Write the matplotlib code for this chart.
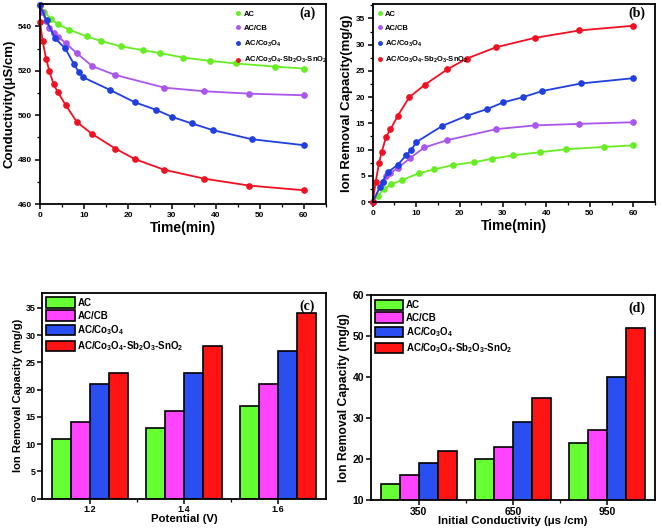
import matplotlib
matplotlib.use("Agg")
import matplotlib.pyplot as plt
import numpy as np
from matplotlib.lines import Line2D
from matplotlib.ticker import MultipleLocator

plt.rcParams["font.family"] = ["Liberation Sans", "DejaVu Sans"]
plt.rcParams["font.weight"] = "bold"
plt.rcParams["mathtext.fontset"] = "custom"
plt.rcParams["mathtext.rm"] = "Liberation Sans:bold"
plt.rcParams["mathtext.it"] = "Liberation Sans:bold"
plt.rcParams["mathtext.bf"] = "Liberation Sans:bold"
plt.rcParams["mathtext.default"] = "rm"

labels = ["AC", "AC/CB", r"AC/Co$_3$O$_4$", r"AC/Co$_3$O$_4$-Sb$_2$O$_3$-SnO$_2$"]
line_colors = ["#66ee22", "#aa55ee", "#1f3fe0", "#f01020"]
bar_colors = ["#66ff33", "#ff44ff", "#2a4ff0", "#ff1414"]

# (a) conductivity vs time
a_ac_t = [0, 1.0, 2.5, 4.2, 6.7, 10.6, 13.9, 18.4, 23.4, 27.3, 32.5, 38.6, 44.6, 53.4, 60]
a_ac = [549.5, 546.6, 543.3, 540.9, 538.5, 535.5, 533.4, 531.0, 529.3, 528.0, 526.0, 524.5, 523.3, 521.9, 521.0]
a_cb_t = [0, 0.5, 1.4, 2.1, 3.1, 4.2, 5.8, 8.4, 11.9, 17.0, 28.3, 37.4, 47.6, 60]
a_cb = [549.5, 546.5, 542.3, 539.5, 537.1, 535.3, 532.5, 527.9, 522.1, 518.2, 512.4, 510.8, 509.7, 509.0]
a_co_t = [0, 1.5, 3.4, 5.7, 7.7, 8.8, 9.8, 15.9, 21.6, 26.3, 30.1, 34.5, 39.3, 48.1, 60]
a_co = [549.5, 542.7, 534.6, 530.2, 523.1, 519.5, 517.1, 511.4, 505.8, 502.5, 499.2, 496.3, 493.3, 489.2, 486.5]
a_sb_t = [0, 0.6, 1.4, 2.1, 3.1, 4.0, 5.8, 8.4, 11.9, 17.1, 21.6, 28.3, 37.4, 47.6, 60]
a_sb = [542, 533.4, 525.4, 520.1, 513.9, 510.6, 504.7, 496.9, 491.5, 485.0, 480.2, 475.4, 471.4, 468.3, 466.2]

# (b) ion removal capacity vs time
b_ac_t = [0, 1.2, 2.6, 4.3, 6.8, 10.7, 14.1, 18.5, 23.4, 27.5, 32.4, 38.6, 44.5, 53.3, 60]
b_ac = [0, 1.2, 2.5, 3.4, 4.2, 5.5, 6.2, 7.05, 7.6, 8.25, 8.9, 9.5, 10.05, 10.5, 10.8]
b_cb_t = [0, 2.3, 3.1, 4.1, 5.8, 8.5, 11.9, 17.2, 28.5, 37.4, 47.6, 60]
b_cb = [0, 3.9, 5.0, 5.5, 6.5, 8.3, 10.4, 11.8, 13.9, 14.6, 14.9, 15.2]
b_co_t = [0, 1.7, 2.3, 3.5, 5.8, 7.7, 8.9, 10.0, 16.0, 21.7, 26.3, 30.1, 34.5, 39.0, 48.0, 60]
b_co = [0, 2.9, 3.9, 5.7, 7.1, 8.9, 9.9, 11.4, 14.5, 16.45, 17.7, 19.0, 19.95, 21.15, 22.6, 23.6]
b_sb_t = [0, 0.7, 1.45, 2.1, 3.1, 4.1, 5.8, 8.4, 12.0, 17.2, 21.7, 28.4, 37.4, 47.6, 60]
b_sb = [0, 3.85, 7.4, 9.6, 12.45, 13.85, 16.45, 19.95, 22.35, 25.3, 27.35, 29.5, 31.3, 32.7, 33.6]

# (c) potential bars
potential = ["1.2", "1.4", "1.6"]
c_ac = [11, 13, 17]
c_cb = [14, 16, 21]
c_co = [21, 23, 27]
c_sb = [23, 28, 34]

# (d) initial conductivity bars
conductivity = ["350", "650", "950"]
d_ac = [14, 20, 24]
d_cb = [16, 23, 27]
d_co = [19, 29, 40]
d_sb = [22, 35, 52]

fig = plt.figure(figsize=(6.61, 5.28), dpi=100)
ax_a = fig.add_axes([0.0605, 0.6136, 0.4325, 0.3784])
ax_b = fig.add_axes([0.5638, 0.6174, 0.4272, 0.3746])
ax_c = fig.add_axes([0.0635, 0.0555, 0.4295, 0.3895])
ax_d = fig.add_axes([0.5608, 0.053, 0.4302, 0.388])


def style(ax, tsize, pad=2):
    for s in ax.spines.values():
        s.set_linewidth(1.3)
    ax.tick_params(direction="out", width=1.1, length=3.5, labelsize=tsize, pad=pad)
    ax.tick_params(which="minor", direction="out", width=0.9, length=2)
    for lab in ax.get_xticklabels() + ax.get_yticklabels():
        lab.set_fontweight("bold")


def line_panel(ax, series, ylim, ymajor, yminor, ylabel, tag, legend_x):
    for (t, v), c in zip(series, line_colors):
        ax.plot(t, v, "-o", color=c, lw=1.3, ms=3.8, clip_on=False)
    ax.set_xlim(0, 65)
    ax.set_ylim(*ylim)
    ax.xaxis.set_major_locator(MultipleLocator(10))
    ax.xaxis.set_minor_locator(MultipleLocator(5))
    ax.yaxis.set_major_locator(MultipleLocator(ymajor))
    ax.yaxis.set_minor_locator(MultipleLocator(yminor))
    ax.set_xlabel("Time(min)", fontsize=10, fontweight="bold", labelpad=2)
    ax.set_ylabel(ylabel, fontsize=9.5, fontweight="bold", labelpad=2)
    style(ax, 6)
    handles = [Line2D([], [], ls="none", marker="o", ms=2.5, color=c) for c in line_colors]
    ax.legend(handles, labels, loc="upper left", bbox_to_anchor=(legend_x, 0.99),
              frameon=False, fontsize=5.5, handlelength=0.6, handletextpad=0.4,
              labelspacing=0.85, borderaxespad=0.2)
    ax.text(0.935, 0.955, tag, transform=ax.transAxes, ha="center", va="center",
            fontsize=10, fontweight="bold", family="Liberation Serif")


line_panel(ax_a, [(a_ac_t, a_ac), (a_cb_t, a_cb), (a_co_t, a_co), (a_sb_t, a_sb)],
           (460, 550), 20, 10, "Conductivity(μS/cm)", "(a)", 0.67)
line_panel(ax_b, [(b_ac_t, b_ac), (b_cb_t, b_cb), (b_co_t, b_co), (b_sb_t, b_sb)],
           (0, 37.7), 5, 2.5, "Ion Removal Capacity(mg/g)", "(b)", 0.0)


def bar_panel(ax, cats, groups, ylim, ymajor, xlabel, ylabel, xl_size, yl_size, tsize, tag):
    x = np.arange(len(cats))
    w = 0.2
    for i, (vals, c) in enumerate(zip(groups, bar_colors)):
        ax.bar(x + (i - 1.5) * w, vals, w, color=c, edgecolor="black", linewidth=1.2,
               label=labels[i])
    ax.set_xlim(-0.512, 2.51)
    ax.set_ylim(*ylim)
    ax.set_xticks(x)
    ax.set_xticklabels(cats)
    ax.set_xticks(x[:-1] + 0.5, minor=True)
    ax.yaxis.set_major_locator(MultipleLocator(ymajor))
    ax.set_xlabel(xlabel, fontsize=xl_size, fontweight="bold", labelpad=-0.5)
    ax.set_ylabel(ylabel, fontsize=yl_size, fontweight="bold", labelpad=2)
    style(ax, tsize, pad=1.2)
    ax.legend(loc="upper left", frameon=False, fontsize=7, handlelength=2.9,
              handleheight=1.25, handletextpad=0.3, labelspacing=0.25,
              borderaxespad=0.35, borderpad=0.1)
    ax.text(0.935, 0.935, tag, transform=ax.transAxes, ha="center", va="center",
            fontsize=10, fontweight="bold", family="Liberation Serif")


bar_panel(ax_c, potential, [c_ac, c_cb, c_co, c_sb], (0, 37.7), 5,
          "Potential (V)", "Ion Removal Capacity (mg/g)", 8.2, 8, 6.5, "(c)")
bar_panel(ax_d, conductivity, [d_ac, d_cb, d_co, d_sb], (10, 60), 10,
          "Initial Conductivity (μs /cm)", "Ion Removal Capacity (mg/g)", 8.2, 8.8, 7.5, "(d)")

fig.savefig("out.png", dpi=100)
